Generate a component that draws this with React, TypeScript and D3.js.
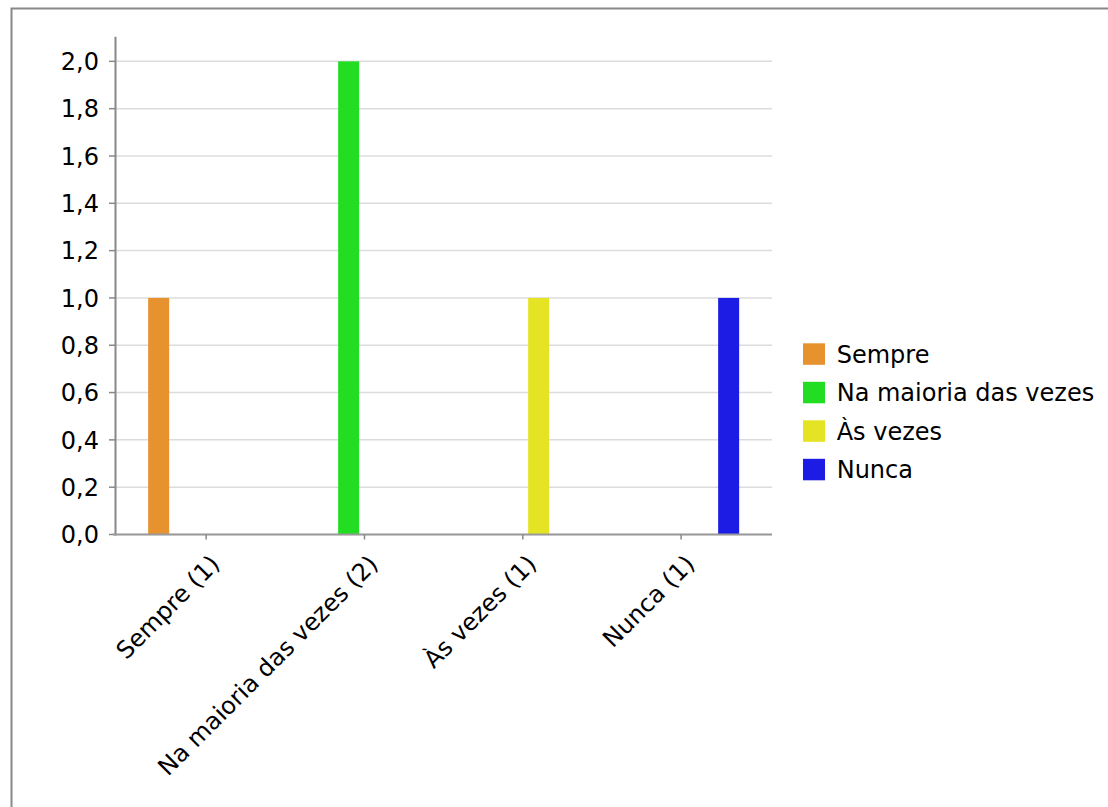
import React from "react";
import * as d3 from "d3";

const categories = ["Sempre (1)", "Na maioria das vezes (2)", "Às vezes (1)", "Nunca (1)"];
const seriesNames = ["Sempre", "Na maioria das vezes", "Às vezes", "Nunca"];
const seriesColors = ["#E6922E", "#22DD22", "#E4E424", "#1C1CE4"];
// values[series][category]
const values = [
  [1, 0, 0, 0],
  [0, 2, 0, 0],
  [0, 0, 1, 0],
  [0, 0, 0, 1],
];
const yTicks = [0, 0.2, 0.4, 0.6, 0.8, 1.0, 1.2, 1.4, 1.6, 1.8, 2.0];

const W = 1108;
const H = 807;
const plotLeft = 115.5;
const plotRight = 772;
const plotTop = 37.7;
const plotBottom = 534.5;

export default function App() {
  const x0 = d3.scaleBand<string>().domain(categories).range([127, 760.3]).paddingInner(0).paddingOuter(0);
  const x1 = d3
    .scaleBand<string>()
    .domain(seriesNames)
    .range([0, x0.bandwidth()])
    .paddingInner(0.337)
    .paddingOuter(0.668);
  const y = d3.scaleLinear().domain([0, 2.1]).range([plotBottom, plotTop]);
  const fmt = (v: number) => d3.format(".1f")(v).replace(".", ",");
  const font = "DejaVu Sans, sans-serif";

  return (
    <svg
      width={W}
      height={H}
      style={{ position: "absolute", left: 0, top: 0, background: "#fff" }}
      fontFamily={font}
    >
      <rect x={11.5} y={8.5} width={1300} height={1000} fill="#fff" stroke="#888" strokeWidth={2} />
      {/* grid */}
      {yTicks.map((t) => (
        <line key={"g" + t} x1={plotLeft} x2={plotRight} y1={y(t)} y2={y(t)} stroke="#dcdcdc" strokeWidth={1.5} />
      ))}
      {/* bars */}
      {seriesNames.map((s, si) =>
        categories.map((c, ci) => {
          const v = values[si][ci];
          if (!v) return null;
          return (
            <rect
              key={s + c}
              x={(x0(c) ?? 0) + (x1(s) ?? 0)}
              y={y(v)}
              width={x1.bandwidth()}
              height={y(0) - y(v)}
              fill={seriesColors[si]}
            />
          );
        })
      )}
      {/* y axis */}
      <line x1={plotLeft} x2={plotLeft} y1={plotTop - 1} y2={plotBottom + 1} stroke="#888" strokeWidth={2} />
      {yTicks.map((t) => (
        <g key={"yt" + t}>
          <line x1={109} x2={plotLeft} y1={y(t)} y2={y(t)} stroke="#888" strokeWidth={1.5} />
          <text x={99} y={y(t)} dy="0.36em" textAnchor="end" fontSize={24} fill="#000">
            {fmt(t)}
          </text>
        </g>
      ))}
      {/* x axis */}
      <line x1={113} x2={plotRight} y1={plotBottom} y2={plotBottom} stroke="#999" strokeWidth={2} />
      {categories.map((c) => {
        const cx = (x0(c) ?? 0) + x0.bandwidth() / 2;
        return (
          <g key={"xt" + c}>
            <line x1={cx} x2={cx} y1={plotBottom} y2={plotBottom + 5} stroke="#888" strokeWidth={1.5} />
            <text
              transform={`translate(${cx + 15},${plotBottom + 31}) rotate(-45)`}
              textAnchor="end"
              fontSize={24}
              fill="#000"
            >
              {c}
            </text>
          </g>
        );
      })}
      {/* legend */}
      {seriesNames.map((s, i) => (
        <g key={"l" + s} transform={`translate(803,${343.3 + i * 38.5})`}>
          <rect width={22} height={21.5} fill={seriesColors[i]} />
          <text x={33.7} y={10.7} dy="0.36em" fontSize={24} fill="#000">
            {s}
          </text>
        </g>
      ))}
    </svg>
  );
}
